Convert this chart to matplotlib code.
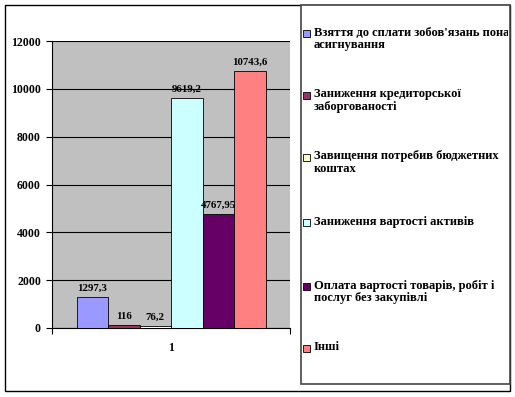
import matplotlib
matplotlib.use("Agg")
import matplotlib.pyplot as plt
from matplotlib.patches import Rectangle

# Дані діаграми
categories = ["1"]
series_names = [
    "Взяття до сплати зобов'язань понад\nасигнування",
    "Заниження кредиторської\nзаборгованості",
    "Завищення потребив бюджетних\nкоштах",
    "Заниження вартості активів",
    "Оплата вартості товарів, робіт і\nпослуг без закупівлі",
    "Інші",
]
values = [1297.3, 116, 76.2, 9619.2, 4767.95, 10743.6]
value_labels = ["1297,3", "116", "76,2", "9619,2", "4767,95", "10743,6"]
colors = ["#9999FF", "#993366", "#FFFFCC", "#CCFFFF", "#660066", "#FF8080"]
y_ticks = [0, 2000, 4000, 6000, 8000, 10000, 12000]

W, H = 515, 397
font = "Liberation Serif"

fig = plt.figure(figsize=(W / 100, H / 100), dpi=100)

# Область побудови (в пікселях)
x0, x1, ytop, ybot = 52, 290, 41, 328
ax = fig.add_axes([x0 / W, (H - ybot) / H, (x1 - x0) / W, (ybot - ytop) / H])
ax.set_facecolor("#C0C0C0")

w = 31.5 / (x1 - x0)
for i, (v, c, lab) in enumerate(zip(values, colors, value_labels)):
    xc = (i - 2.5) * w
    ax.bar(xc, v, width=w, color=c, edgecolor="black", linewidth=0.6, zorder=3)
    ax.annotate(lab, (xc, v), xytext=(0, 3), textcoords="offset points",
                ha="center", va="bottom", fontsize=7.8, fontweight="bold",
                family=font, zorder=4)

ax.set_xlim(-0.5, 0.5)
ax.set_ylim(0, 12000)
ax.set_yticks(y_ticks)
ax.set_yticklabels([str(t) for t in y_ticks], fontsize=8.5, fontweight="bold", family=font)
ax.set_xticks([-0.5, 0.5])
ax.set_xticklabels(["", ""])
ax.tick_params(axis="both", direction="out", length=4, width=0.8, color="black")
ax.tick_params(axis="y", pad=4)
ax.text(0.5, -0.07, categories[0], transform=ax.transAxes, ha="center", va="center",
        fontsize=8.5, fontweight="bold", family=font)
ax.yaxis.grid(True, color="black", linewidth=0.8, zorder=1)
ax.set_axisbelow(True)
for s in ["top", "right"]:
    ax.spines[s].set_visible(False)
ax.spines["left"].set_color("black")
ax.spines["bottom"].set_color("black")

# Рамка і легенда
ov = fig.add_axes([0, 0, 1, 1], zorder=5)
ov.set_xlim(0, W)
ov.set_ylim(H, 0)
ov.axis("off")
ov.patch.set_alpha(0)
ov.add_patch(Rectangle((5, 5), 505, 386, fill=False, edgecolor="black", linewidth=1))
box = Rectangle((301, 5), 209, 379, facecolor="white", edgecolor="#444444", linewidth=1.2)
ov.add_patch(box)

leg_y = [33, 95, 157, 222, 286, 348]
for name, c, y in zip(series_names, colors, leg_y):
    ov.add_patch(Rectangle((302.5, y - 3.5), 7, 7, facecolor=c, edgecolor="black", linewidth=0.6))
    t = ov.text(314, y - 6.5, name, ha="left", va="top", fontsize=9, fontweight="bold",
                family=font, linespacing=1.05)
    t.set_clip_on(True)
    t.set_clip_path(Rectangle((301, 5), 207, 379, transform=ov.transData))

fig.savefig("out.png", dpi=100)
